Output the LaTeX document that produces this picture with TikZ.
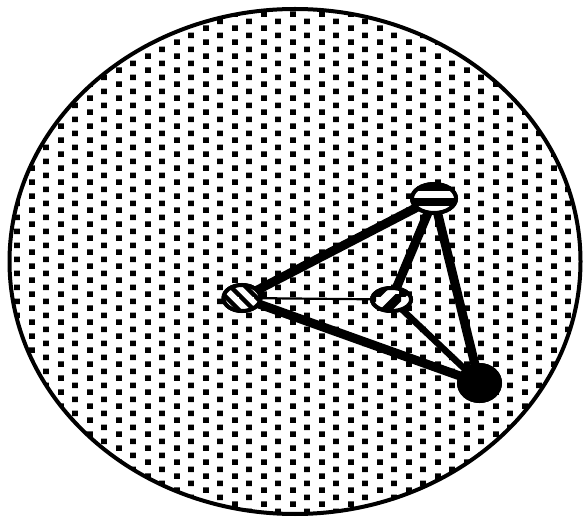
\documentclass[tikz,border=0pt]{standalone}
\usetikzlibrary{shapes.geometric,patterns}
\pgfdeclarepatternformonly{bgdots}{\pgfqpoint{0pt}{0pt}}{\pgfqpoint{28.5pt}{14.25pt}}{\pgfqpoint{28.5pt}{14.25pt}}{%
  \pgfpathrectangle{\pgfqpoint{0pt}{0pt}}{\pgfqpoint{6pt}{6pt}}%
  \pgfpathrectangle{\pgfqpoint{14.25pt}{7.1pt}}{\pgfqpoint{6pt}{6pt}}%
  \pgfusepath{fill}}
\pgfdeclarepatternformonly{hstripes}{\pgfqpoint{-1pt}{0pt}}{\pgfqpoint{31pt}{15pt}}{\pgfqpoint{30pt}{15pt}}{%
  \pgfpathrectangle{\pgfqpoint{-1pt}{0pt}}{\pgfqpoint{32pt}{7.5pt}}%
  \pgfusepath{fill}}
\pgfdeclarepatternformonly{nestripes}{\pgfqpoint{-1pt}{-1pt}}{\pgfqpoint{26pt}{26pt}}{\pgfqpoint{25pt}{25pt}}{%
  \pgfsetlinewidth{9pt}%
  \pgfpathmoveto{\pgfqpoint{-1pt}{-1pt}}\pgfpathlineto{\pgfqpoint{26pt}{26pt}}%
  \pgfusepath{stroke}}
\pgfdeclarepatternformonly{nwhatch}{\pgfqpoint{-1pt}{-1pt}}{\pgfqpoint{16pt}{16pt}}{\pgfqpoint{15pt}{15pt}}{%
  \pgfsetlinewidth{4.5pt}%
  \pgfpathmoveto{\pgfqpoint{-1pt}{16pt}}\pgfpathlineto{\pgfqpoint{16pt}{-1pt}}%
  \pgfusepath{stroke}}
\tikzset{
  vtx/.style={ellipse, draw=black, line width=4pt, inner sep=0pt},
  thickedge/.style={line width=9pt},
  midedge/.style={line width=6.5pt},
  thinedge/.style={line width=2.2pt},
}
\begin{document}
\begin{tikzpicture}[x=1pt,y=-1pt]
\useasboundingbox (0,0) rectangle (584,521);
\draw[line width=4pt, pattern=bgdots] (295,261.5) ellipse [x radius=285.5, y radius=252.5];
\node[vtx, minimum width=37pt, minimum height=26pt] (L) at (242,298) {};
\node[vtx, minimum width=39pt, minimum height=23pt] (M) at (391.5,299.5) {};
\node[vtx, minimum width=44pt, minimum height=29pt] (T) at (434,198.5) {};
\node[vtx, fill=black, minimum width=41pt, minimum height=36pt] (B) at (479.5,383) {};
\draw[thickedge] (L.center) -- (T.center);
\draw[thickedge] (L.center) -- (B.center);
\draw[thinedge] (L.center) -- (M.center);
\draw[thickedge] (M.center) -- (T.center);
\draw[midedge] (M.center) -- (B.center);
\draw[thickedge] (T.center) -- (B.center);
\node[vtx, fill=white, postaction={pattern=nwhatch}, minimum width=37pt, minimum height=26pt] at (L) {};
\node[vtx, fill=white, postaction={pattern=nestripes}, minimum width=39pt, minimum height=23pt] at (M) {};
\node[vtx, fill=white, postaction={pattern=hstripes}, minimum width=44pt, minimum height=29pt] at (T) {};
\node[vtx, fill=black, minimum width=41pt, minimum height=36pt] at (B) {};
\end{tikzpicture}
\end{document}
